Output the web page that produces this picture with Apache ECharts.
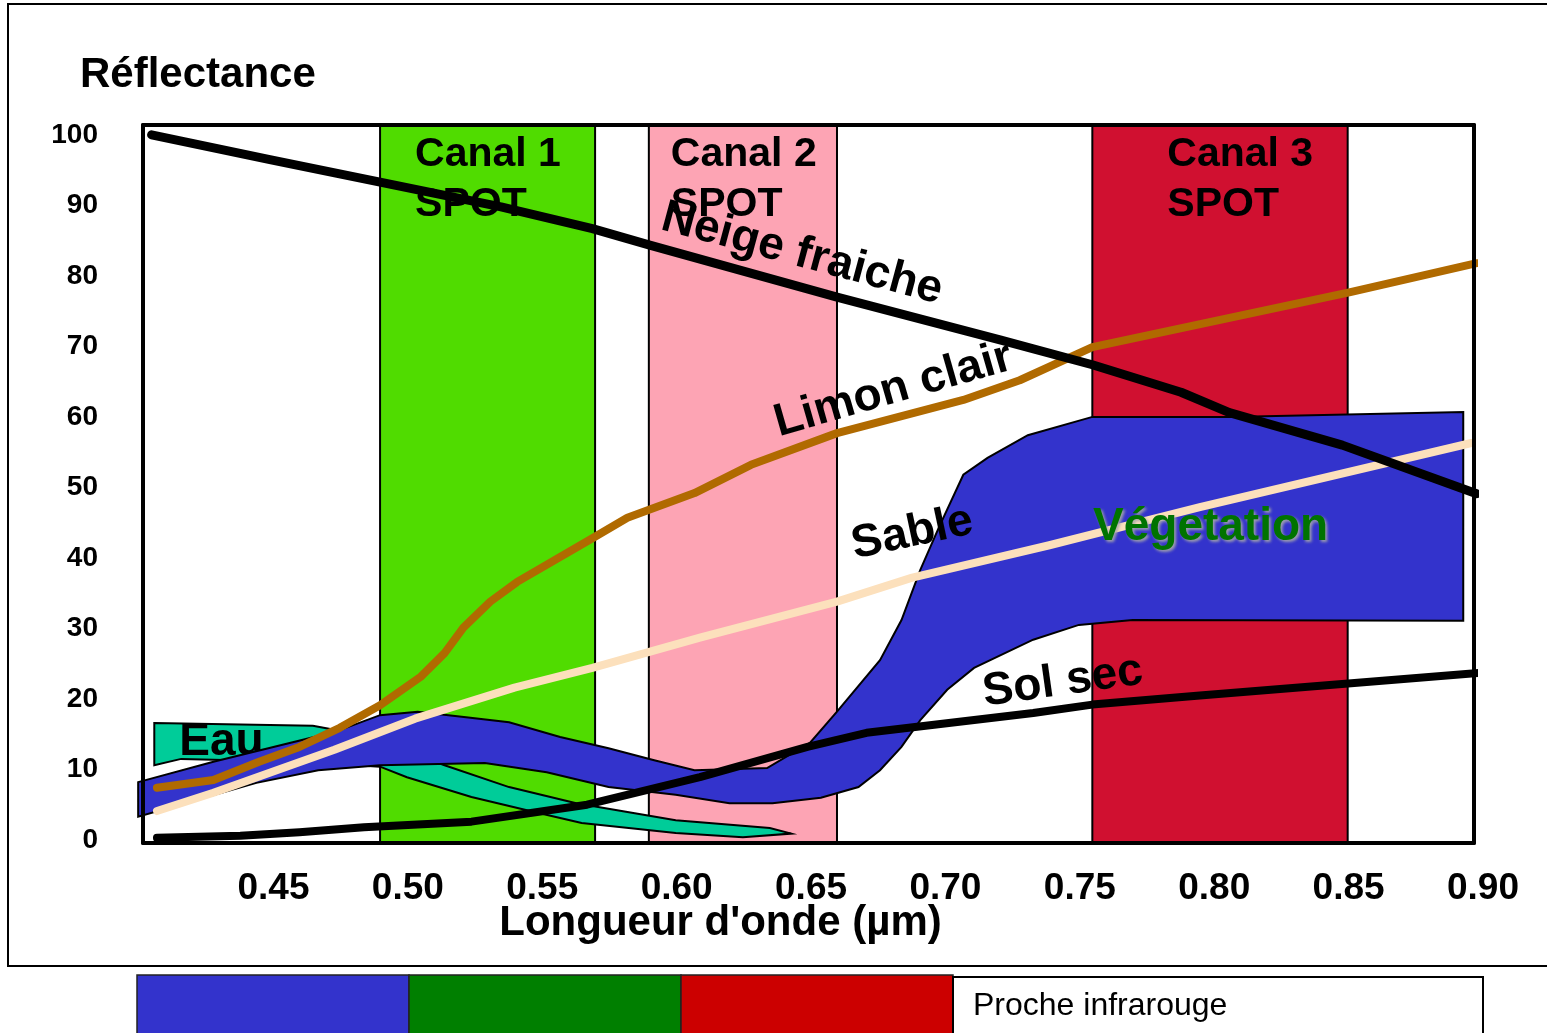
<!DOCTYPE html>
<html>
<head>
<meta charset="utf-8">
<script src="https://cdn.jsdelivr.net/npm/echarts@6/dist/echarts.min.js"></script>
<style>
html,body{margin:0;padding:0;background:#fff;}
#c{width:1547px;height:1033px;}
</style>
</head>
<body>
<div id="c"></div>
<script>
// ---------- data ----------
const xTicks = [0.45, 0.50, 0.55, 0.60, 0.65, 0.70, 0.75, 0.80, 0.85, 0.90];
const yTicks = [0, 10, 20, 30, 40, 50, 60, 70, 80, 90, 100];

const bands = [
  { name: 'Canal 1\nSPOT', from: 0.493, to: 0.573, color: '#50DC00', dx: 36 },
  { name: 'Canal 2\nSPOT', from: 0.593, to: 0.663, color: '#FDA4B4', dx: 23 },
  { name: 'Canal 3\nSPOT', from: 0.758, to: 0.853, color: '#D01030', dx: 76 }
];

const neige = [[0.408,100],[0.452,96.5],[0.493,93.3],[0.538,89.8],[0.572,86.7],[0.593,84.4],[0.663,77.0],[0.724,70.9],[0.758,67.4],[0.791,63.5],[0.809,60.6],[0.851,56.0],[0.901,49.1]];
const limon = [[0.410,7.4],[0.431,8.5],[0.448,11.1],[0.463,13.2],[0.478,15.9],[0.493,19.1],[0.508,23.1],[0.517,26.5],[0.524,30.1],[0.534,33.8],[0.544,36.6],[0.572,42.8],[0.585,45.7],[0.610,49.2],[0.631,53.2],[0.663,57.7],[0.710,62.4],[0.731,65.2],[0.758,69.9],[0.854,77.7],[0.901,81.8]];
const sable = [[0.410,4.1],[0.431,6.7],[0.476,12.8],[0.506,17.2],[0.543,21.6],[0.572,24.4],[0.612,28.7],[0.663,33.8],[0.691,37.2],[0.742,41.8],[0.798,47.2],[0.899,56.3]];
const solSec = [[0.410,0.3],[0.441,0.6],[0.463,1.1],[0.487,1.8],[0.527,2.6],[0.570,5.0],[0.612,8.9],[0.652,13.2],[0.674,15.2],[0.736,18.0],[0.758,19.2],[0.798,20.5],[0.902,23.7]];

const vegUpper = [[0.403,8.2],[0.431,11.1],[0.476,15.3],[0.493,17.7],[0.507,18.2],[0.525,17.4],[0.541,16.7],[0.560,14.6],[0.578,13.0],[0.595,11.3],[0.610,9.9],[0.637,10.2],[0.653,13.8],[0.663,18.2],[0.679,25.5],[0.687,31.2],[0.694,38.3],[0.701,44.4],[0.710,51.8],[0.719,54.2],[0.734,57.4],[0.758,60.0],[0.809,60.0],[0.896,60.7]];
const vegLower = [[0.403,3.3],[0.447,8.1],[0.470,9.9],[0.493,10.6],[0.532,10.9],[0.555,9.6],[0.578,7.5],[0.603,6.4],[0.623,5.2],[0.639,5.2],[0.657,6.0],[0.671,7.5],[0.679,9.9],[0.687,13.2],[0.694,17.0],[0.704,21.3],[0.714,24.4],[0.736,28.4],[0.753,30.5],[0.773,31.2],[0.896,31.1]];

const eauUpper = [[0.409,16.6],[0.468,16.2],[0.478,15.5],[0.500,13.0],[0.517,10.6],[0.541,7.5],[0.566,5.2],[0.603,2.8],[0.638,1.7],[0.646,0.9]];
const eauLower = [[0.409,10.6],[0.419,11.5],[0.463,11.1],[0.493,10.4],[0.503,8.9],[0.527,6.1],[0.550,4.0],[0.568,2.4],[0.603,1.0],[0.628,0.4]];

// curve labels: [x, y, text, rotation]
const curveLabels = [
  [0.650, 83.1, 'Neige fraiche', -15],
  [0.684, 63.8, 'Limon clair', 16],
  [0.691, 43.5, 'Sable', 12],
  [0.747, 22.4, 'Sol sec', 8]
];
const eauLabel = [0.434, 13.9, 'Eau'];
const vegLabel = [0.802, 44.4, 'Végetation'];

const legendBoxes = ['#3333CC', '#007F00', '#CC0000'];
const legendText = 'Proche infrarouge';

// ---------- chart ----------
const FONT = '"Liberation Sans", Arial, sans-serif';
const chart = echarts.init(document.getElementById('c'), null, { renderer: 'canvas' });

function polygonSeries(upper, lower, fill, z) {
  const pts = upper.concat(lower.slice().reverse());
  return {
    type: 'custom',
    coordinateSystem: 'cartesian2d',
    z: z,
    silent: true,
    data: pts,
    encode: { x: 0, y: 1 },
    renderItem: function (params, api) {
      if (params.dataIndex !== 0) return null;
      return {
        type: 'polygon',
        shape: { points: pts.map(p => api.coord(p)) },
        style: { fill: fill, stroke: '#000', lineWidth: 2 }
      };
    }
  };
}

function lineSeries(data, color, width, z) {
  return {
    type: 'line', data: data, symbol: 'none', z: z, clip: false, silent: true,
    lineStyle: { color: color, width: width, cap: 'round', join: 'round' }
  };
}

function labelSeries(data, color, z, extra) {
  return {
    type: 'scatter', z: z, symbolSize: 0, silent: true,
    itemStyle: { opacity: 1 },
    emphasis: { disabled: true },
    data: data,
    label: Object.assign({ show: true, position: 'inside', opacity: 1,
      fontFamily: FONT, fontSize: 46, fontWeight: 'bold', color: color }, extra || {})
  };
}

const option = {
  animation: false,
  backgroundColor: '#fff',
  title: {
    text: 'Réflectance', left: 80, top: 54, padding: 0,
    textStyle: { fontFamily: FONT, fontSize: 42, fontWeight: 'bold', color: '#000' }
  },
  grid: { left: 143, right: 73, top: 125, bottom: 190 },
  xAxis: [{
    type: 'value', min: 0.4048, max: 0.90, position: 'bottom', z: 10,
    axisLine: { show: true, onZero: false, lineStyle: { color: '#000', width: 4 } },
    axisTick: { show: false }, splitLine: { show: false },
    axisLabel: {
      customValues: xTicks, formatter: v => v.toFixed(2), margin: 27,
      padding: [0, 0, 0, 18],
      fontFamily: FONT, fontSize: 37, fontWeight: 'bold', color: '#000'
    },
    name: "Longueur d'onde (µm)", nameLocation: 'middle', nameGap: 59,
    nameMoveOverlap: false,
    nameTextStyle: { fontFamily: FONT, fontSize: 42, fontWeight: 'bold', color: '#000', padding: [0, 176, 0, 0] }
  }, {
    type: 'value', min: 0.4048, max: 0.90, position: 'top', z: 10,
    axisLine: { show: true, onZero: false, lineStyle: { color: '#000', width: 4 } },
    axisTick: { show: false }, splitLine: { show: false }, axisLabel: { show: false }
  }],
  yAxis: [{
    type: 'value', min: -0.43, max: 101.4, position: 'left', z: 10,
    axisLine: { show: true, onZero: false, lineStyle: { color: '#000', width: 4 } },
    axisTick: { show: false }, splitLine: { show: false },
    axisLabel: {
      customValues: yTicks, margin: 45,
      fontFamily: FONT, fontSize: 28, fontWeight: 'bold', color: '#000'
    }
  }, {
    type: 'value', min: -0.43, max: 101.4, position: 'right', z: 10,
    axisLine: { show: true, onZero: false, lineStyle: { color: '#000', width: 4 } },
    axisTick: { show: false }, splitLine: { show: false }, axisLabel: { show: false }
  }],
  series: [
    {
      type: 'line', data: [], z: 1, silent: true,
      markArea: {
        silent: true,
        data: bands.map(b => [{
          xAxis: b.from,
          itemStyle: { color: b.color, borderColor: '#000', borderWidth: 2, opacity: 1 },
          label: {
            show: true, formatter: b.name, position: [b.dx, 6], align: 'left', verticalAlign: 'top',
            fontFamily: FONT, fontSize: 41, fontWeight: 'bold', color: '#000', lineHeight: 50
          }
        }, { xAxis: b.to }])
      }
    },
    polygonSeries(eauUpper, eauLower, '#00CC99', 2),
    labelSeries([{ value: [eauLabel[0], eauLabel[1]], label: { formatter: eauLabel[2] } }], '#000', 3),
    polygonSeries(vegUpper, vegLower, '#3333CC', 4),
    lineSeries(sable, '#FCE0BC', 8, 5),
    lineSeries(limon, '#B06A00', 8, 6),
    lineSeries(solSec, '#000000', 8, 7),
    lineSeries(neige, '#000000', 9, 8),
    labelSeries(curveLabels.map(a => ({
      value: [a[0], a[1]],
      label: { formatter: a[2], rotate: a[3] }
    })), '#000', 9),
    labelSeries([{ value: [vegLabel[0], vegLabel[1]], label: { formatter: vegLabel[2] } }], '#007300', 9, {
      textShadowColor: 'rgba(170,170,170,0.9)', textShadowBlur: 3,
      textShadowOffsetX: 2, textShadowOffsetY: 2
    })
  ],
  graphic: [
    { type: 'rect', z: 0, silent: true, shape: { x: 8, y: 4, width: 1600, height: 962 },
      style: { fill: 'none', stroke: '#000', lineWidth: 2 } },
    ...legendBoxes.map((c, i) => ({
      type: 'rect', silent: true, shape: { x: 137 + i * 272, y: 975, width: 272, height: 70 },
      style: { fill: c, stroke: '#222', lineWidth: 1.5 }
    })),
    { type: 'rect', silent: true, shape: { x: 953, y: 977, width: 530, height: 70 },
      style: { fill: '#fff', stroke: '#000', lineWidth: 2 } },
    { type: 'text', silent: true, x: 973, y: 1006,
      style: { text: legendText, fontFamily: FONT, fontSize: 32, fill: '#000', verticalAlign: 'middle' } }
  ]
};
chart.setOption(option);
</script>
</body>
</html>
